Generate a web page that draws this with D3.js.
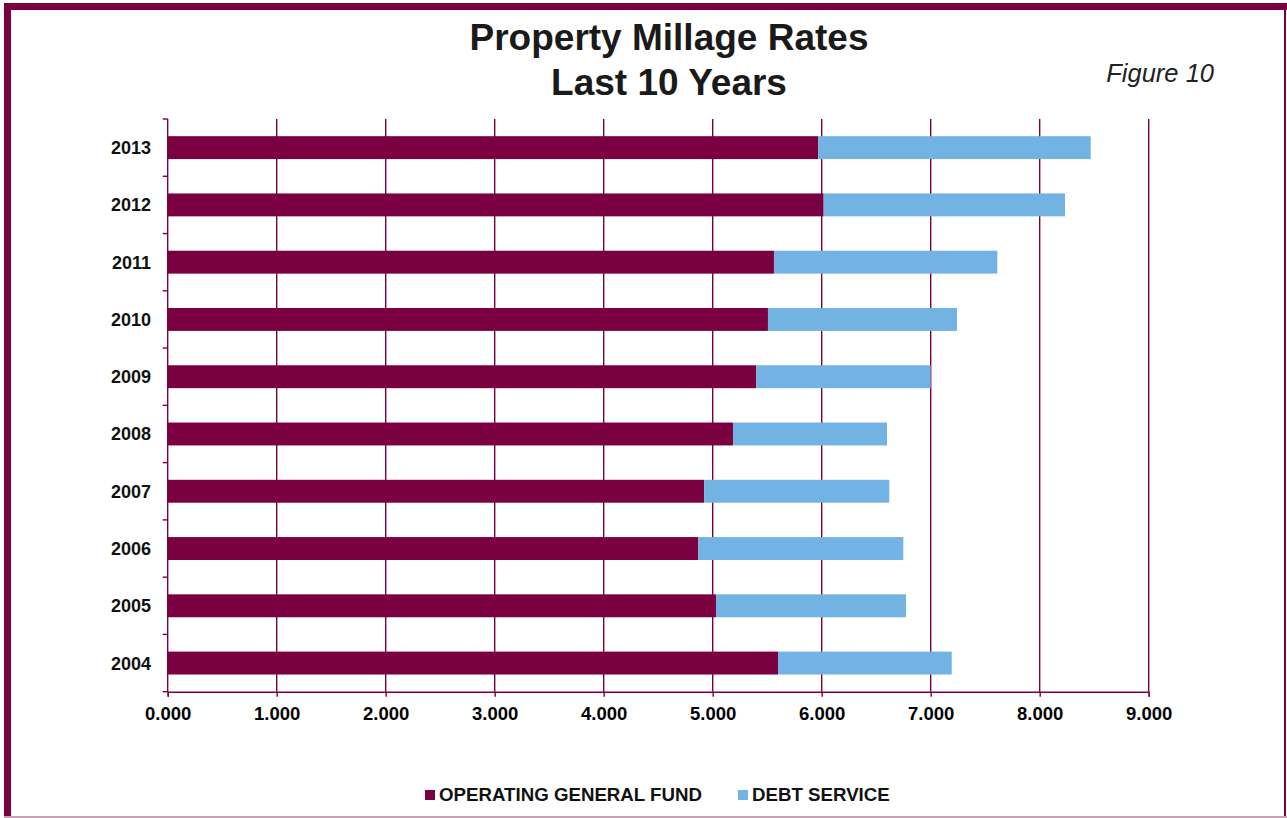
<!DOCTYPE html>
<html>
<head>
<meta charset="utf-8">
<script src="https://cdn.jsdelivr.net/npm/d3@7"></script>
<style>
  html, body { margin: 0; padding: 0; background: #fff; }
  svg { display: block; }
  text { font-family: "Liberation Sans", Arial, sans-serif; fill: #000; }
</style>
</head>
<body>
<svg id="chart" width="1287" height="818"></svg>
<script>
// Millage rates by fiscal year (mills)
const years = ["2013", "2012", "2011", "2010", "2009", "2008", "2007", "2006", "2005", "2004"];
const operatingGeneralFund = [5.969, 6.018, 5.562, 5.507, 5.400, 5.186, 4.921, 4.868, 5.030, 5.599];
const debtService = [2.499, 2.214, 2.049, 1.734, 1.600, 1.413, 1.699, 1.881, 1.743, 1.594];
const xTicks = [0, 1, 2, 3, 4, 5, 6, 7, 8, 9];
const seriesNames = ["OPERATING GENERAL FUND", "DEBT SERVICE"];
const seriesColors = ["#7B0041", "#72B3E4"];

const MAROON = "#7B0041";
const svg = d3.select("#chart");

// Frame
svg.append("rect").attr("x", 0).attr("y", 0).attr("width", 1287).attr("height", 818).attr("fill", "#fff");
svg.append("rect").attr("x", 4).attr("y", 3).attr("width", 7).attr("height", 815).attr("fill", MAROON);
svg.append("rect").attr("x", 4).attr("y", 3).attr("width", 1283).attr("height", 7).attr("fill", MAROON);
svg.append("rect").attr("x", 1284).attr("y", 3).attr("width", 2).attr("height", 815).attr("fill", MAROON);
svg.append("rect").attr("x", 4).attr("y", 816).attr("width", 1283).attr("height", 2).attr("fill", "#c7a0b6");

// Titles
svg.append("text").attr("x", 669).attr("y", 50).attr("text-anchor", "middle")
  .style("font-size", "37px").style("font-weight", "bold").style("fill", "#1a1a1a").text("Property Millage Rates");
svg.append("text").attr("x", 669).attr("y", 95).attr("text-anchor", "middle")
  .style("font-size", "37px").style("font-weight", "bold").style("fill", "#1a1a1a").text("Last 10 Years");
svg.append("text").attr("x", 1214).attr("y", 82).attr("text-anchor", "end")
  .style("font-size", "25.5px").style("font-style", "italic").style("fill", "#222").text("Figure 10");

// Scales
const plot = { left: 167.7, right: 1148.7, top: 119, bottom: 691.7 };
const x = d3.scaleLinear().domain([0, 9]).range([plot.left, plot.right]);
const y = d3.scaleBand().domain(years).range([plot.top, plot.bottom]).paddingInner(0.6).paddingOuter(0.3);
const yBand = d3.scaleBand().domain(years).range([plot.top, plot.bottom]);

// Vertical gridlines
svg.append("g").selectAll("line").data(xTicks.slice(1)).join("line")
  .attr("x1", d => x(d)).attr("x2", d => x(d))
  .attr("y1", plot.top).attr("y2", plot.bottom)
  .attr("stroke", MAROON).attr("stroke-width", 1.4);

// Stacked bars
const rows = years.map((yr, i) => ({ year: yr, values: [operatingGeneralFund[i], debtService[i]] }));
const stacked = d3.stack().keys([0, 1]).value((d, k) => d.values[k])(rows);
svg.append("g").selectAll("g").data(stacked).join("g")
  .attr("fill", (d, i) => seriesColors[i])
  .selectAll("rect").data(d => d).join("rect")
  .attr("x", d => x(d[0]))
  .attr("width", d => x(d[1]) - x(d[0]))
  .attr("y", d => y(d.data.year))
  .attr("height", y.bandwidth());

// Y axis: line, band-boundary ticks, year labels
const yAxis = svg.append("g");
yAxis.append("line").attr("x1", plot.left).attr("x2", plot.left)
  .attr("y1", plot.top).attr("y2", plot.bottom).attr("stroke", MAROON).attr("stroke-width", 1.4);
const boundaries = years.map(yr => yBand(yr)).concat([plot.bottom]);
yAxis.selectAll("line.tick").data(boundaries).join("line").attr("class", "tick")
  .attr("x1", plot.left - 5).attr("x2", plot.left)
  .attr("y1", d => d).attr("y2", d => d)
  .attr("stroke", MAROON).attr("stroke-width", 1.4);
yAxis.selectAll("text").data(years).join("text")
  .attr("x", 151).attr("y", d => y(d) + y.bandwidth() / 2 + 6.5)
  .attr("text-anchor", "end")
  .style("font-size", "18px").style("font-weight", "bold").style("fill", "#111")
  .text(d => d);

// X axis
const xAxis = d3.axisBottom(x).tickValues(xTicks).tickFormat(d3.format(".3f"))
  .tickSize(5).tickPadding(10);
const gx = svg.append("g").attr("transform", `translate(0,${plot.bottom})`).call(xAxis);
gx.select(".domain").attr("stroke", MAROON).attr("stroke-width", 1.4);
gx.selectAll(".tick line").attr("stroke", MAROON).attr("stroke-width", 1.4);
gx.selectAll(".tick text").style("font-size", "18.5px").style("font-weight", "bold")
  .style("font-family", "'Liberation Sans', Arial, sans-serif").attr("fill", "#111");

// Legend
const legend = svg.append("g");
const legendItems = [{ x: 425, name: seriesNames[0], color: seriesColors[0] },
                     { x: 738, name: seriesNames[1], color: seriesColors[1] }];
legendItems.forEach(item => {
  legend.append("rect").attr("x", item.x).attr("y", 790).attr("width", 10).attr("height", 10).attr("fill", item.color);
  legend.append("text").attr("x", item.x + 14).attr("y", 801)
    .style("font-size", "18.7px").style("font-weight", "bold").style("fill", "#111").text(item.name);
});
</script>
</body>
</html>
